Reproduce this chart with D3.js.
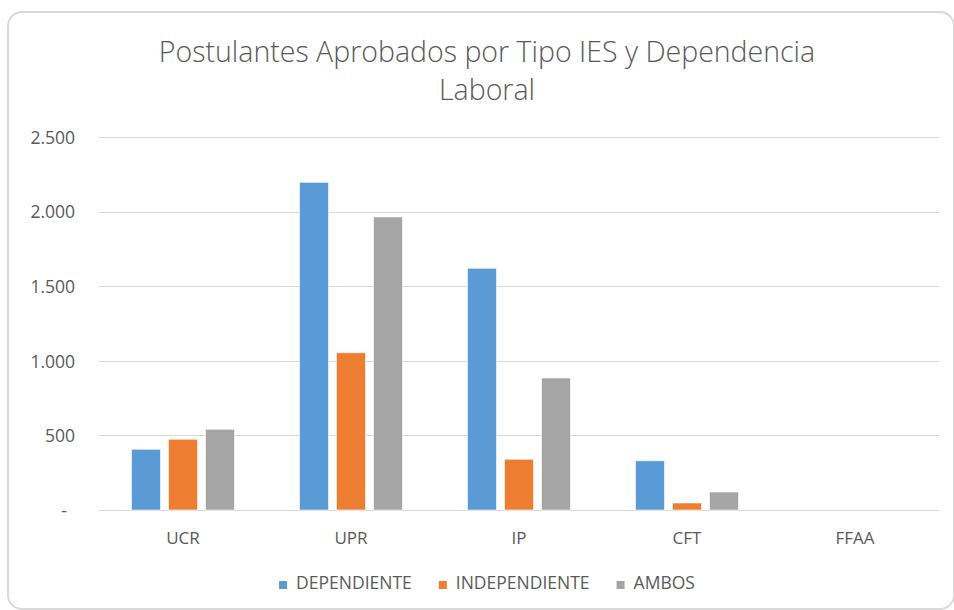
<!DOCTYPE html>
<html>
<head>
<meta charset="utf-8">
<script src="https://cdn.jsdelivr.net/npm/d3@7"></script>
<style>
    body { margin: 0; background: #fff; }
    text { font-family: "Open Sans", sans-serif; fill: #595959; }
</style>
</head>
<body>
<div id="chart"></div>
<script>
// data
const categories = ["UCR", "UPR", "IP", "CFT", "FFAA"];
const series = ["DEPENDIENTE", "INDEPENDIENTE", "AMBOS"];
const dependiente = [407, 2196, 1620, 330, 0];
const independiente = [474, 1054, 340, 47, 0];
const ambos = [541, 1964, 885, 121, 0];
const yTicks = [0, 500, 1000, 1500, 2000, 2500];
const titleLines = ["Postulantes Aprobados por Tipo IES y Dependencia", "Laboral"];

const colors = ["#5B9BD5", "#ED7D31", "#A5A5A5"];
const values = [dependiente, independiente, ambos];

const W = 954, H = 610;
const plot = { left: 99, right: 939, top: 137, bottom: 510 };
const centerX = 487;

const svg = d3.select("#chart")
    .append("svg")
    .attr("width", W)
    .attr("height", H);

    // chart frame
svg.append("rect")
    .attr("x", 8)
    .attr("y", 12)
    .attr("width", 946)
    .attr("height", 597)
    .attr("rx", 14)
    .attr("fill", "#fff")
    .attr("stroke", "#d9d9d9")
    .attr("stroke-width", 2);

    // title
svg.append("g")
    .selectAll("text")
    .data(titleLines)
    .enter()
    .append("text")
    .attr("x", centerX)
    .attr("y", (d, i) => 62 + i * 38)
    .attr("text-anchor", "middle")
    .style("font-size", "28.5px")
    .style("font-weight", 300)
    .text(d => d);

const yScale = d3.scaleLinear()
    .domain([0, 2500])
    .range([plot.bottom, plot.top]);

const x0 = d3.scaleBand()
    .domain(categories)
    .range([plot.left, plot.right]);

const groupW = 103;
const x1 = d3.scaleBand()
    .domain(series)
    .range([0, groupW])
    .paddingInner(8 / 37);

    // gridlines
svg.append("g")
    .selectAll("line")
    .data(yTicks)
    .enter()
    .append("line")
    .attr("x1", plot.left)
    .attr("x2", plot.right)
    .attr("y1", d => Math.round(yScale(d)) + 0.5)
    .attr("y2", d => Math.round(yScale(d)) + 0.5)
    .attr("stroke", "#d9d9d9")
    .attr("stroke-width", 1);

    // y labels
const yAxis = svg.append("g")
    .attr("transform", `translate(${75},0)`)
    .call(d3.axisLeft(yScale)
        .tickValues(yTicks)
        .tickSize(0)
        .tickPadding(0)
        .tickFormat(d => d === 0 ? "-" : d3.format(",")(d).replace(/,/g, ".")));
yAxis.select(".domain").remove();
yAxis.selectAll("text")
    .style("font-size", "17.5px")
    .style("font-family", "'Open Sans', sans-serif")
    .attr("fill", "#595959")
    .attr("dy", "0.36em")
    .attr("x", d => d === 0 ? -8 : 0);

    // bars
const group = svg.append("g")
    .selectAll("g")
    .data(series)
    .enter()
    .append("g")
    .attr("fill", (d, i) => colors[i]);

group.selectAll("rect")
    .data((s, si) => categories.map((c, ci) => ({ cat: c, ser: s, value: values[si][ci] })))
    .enter()
    .append("rect")
    .attr("x", d => x0(d.cat) + (x0.bandwidth() - groupW) / 2 + x1(d.ser))
    .attr("y", d => yScale(d.value))
    .attr("width", x1.bandwidth())
    .attr("height", d => yScale(0) - yScale(d.value))
    .attr("stroke", d => d.value > 0 ? "#fff" : "none")
    .attr("stroke-opacity", 0.6)
    .attr("stroke-width", 1);

    // category labels
const xAxis = svg.append("g")
    .attr("transform", `translate(0,${plot.bottom})`)
    .call(d3.axisBottom(x0).tickSize(0).tickPadding(0));
xAxis.select(".domain").remove();
xAxis.selectAll("text")
    .style("font-size", "17px")
    .style("font-family", "'Open Sans', sans-serif")
    .attr("fill", "#595959")
    .attr("y", 34)
    .attr("dy", 0);

    // legend
const legend = svg.append("g")
    .attr("class", "legend");

const legendItem = legend.selectAll(".legend-item")
    .data(series)
    .enter()
    .append("g")
    .attr("class", "legend-item");

legendItem.append("rect")
    .attr("width", 8)
    .attr("height", 8)
    .attr("y", -8)
    .attr("fill", (d, i) => colors[i]);

legendItem.append("text")
    .attr("x", 17)
    .attr("y", 0)
    .style("font-size", "17.5px")
    .text(d => d);

let lx = 0;
const itemX = [];
legendItem.each(function() {
    itemX.push(lx);
    lx += 17 + this.querySelector("text").getComputedTextLength() + 27;
});
const legendW = lx - 27;
legendItem.attr("transform", (d, i) => `translate(${itemX[i]},0)`);
legend.attr("transform", `translate(${centerX - legendW / 2},${589})`);
</script>
</body>
</html>
